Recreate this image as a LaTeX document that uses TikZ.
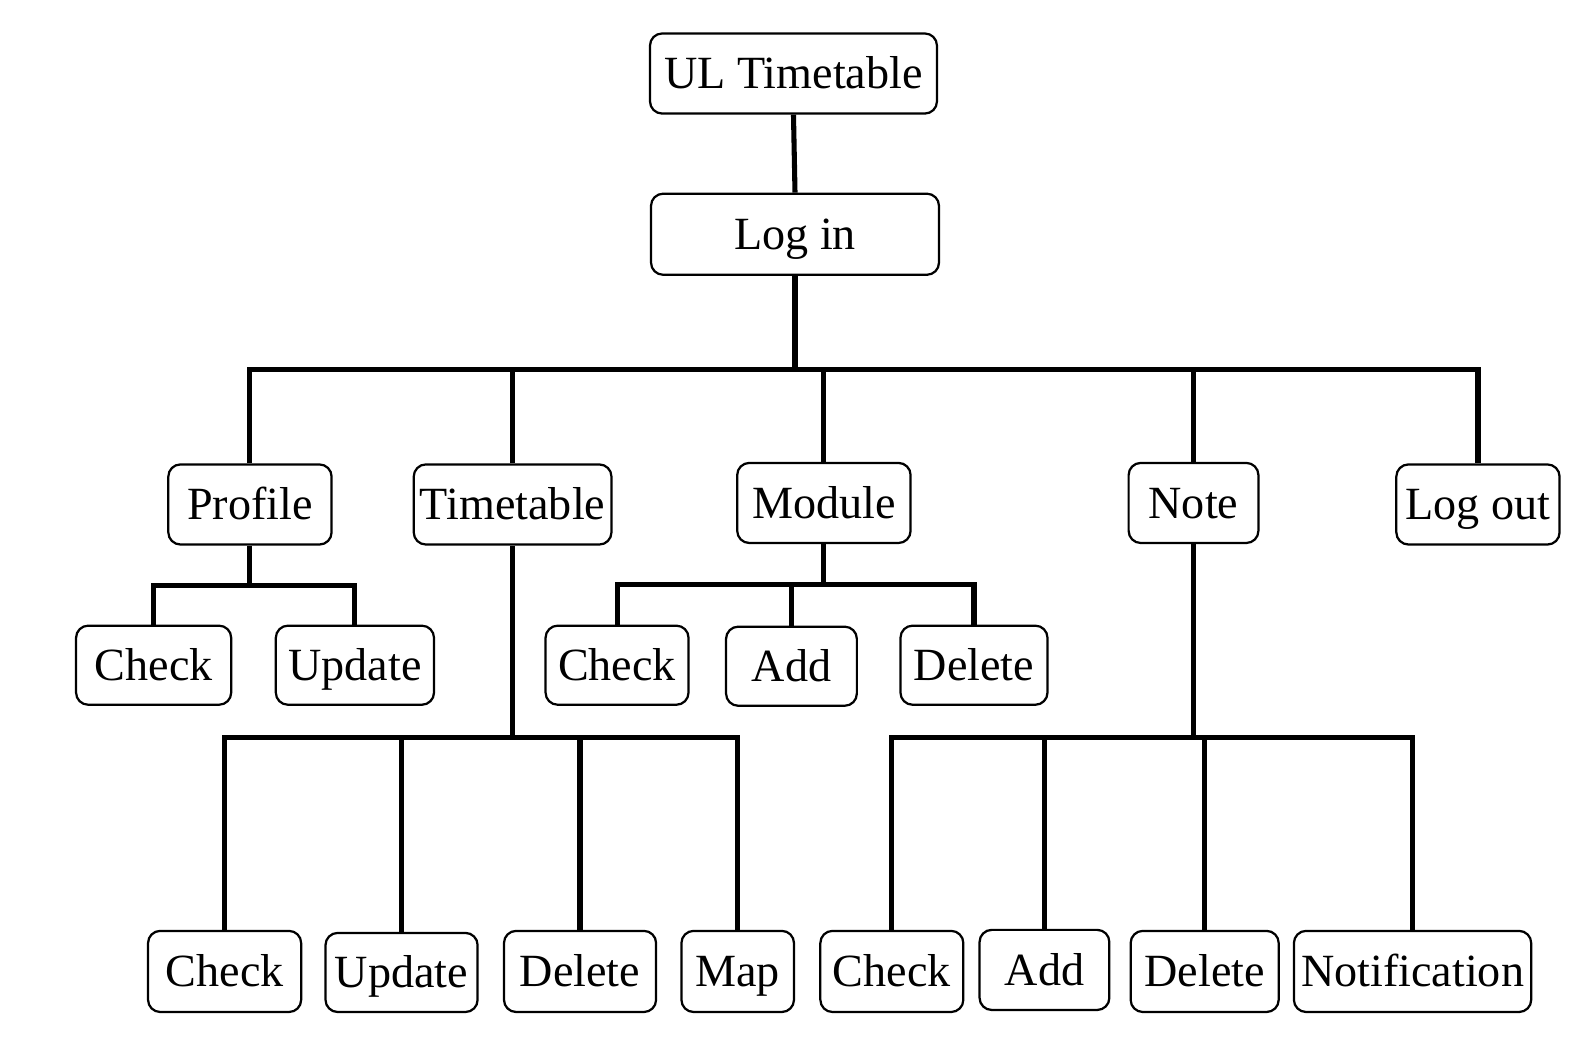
\documentclass[tikz,border=0pt]{standalone}
\usepackage{fontspec}
\setmainfont{Liberation Serif}
\begin{document}
\begin{tikzpicture}[x=0.5pt,y=-0.5pt,
  box/.style={draw, line width=1.1pt, rounded corners=6pt, minimum height=39.5pt,
    inner sep=1pt, font=\fontsize{22.75}{27}\selectfont, text height=15pt, text depth=0pt},
  conn/.style={draw, line width=2.5pt, line join=miter}]
\useasboundingbox (0,0) rectangle (1568,1047);
% top
\node[box, minimum width=141.5pt] (ul) at (782.5,72.5) {UL Timetable};
\node[box, minimum width=142pt, minimum height=40pt] (login) at (784,231) {Log in};
% level 2
\node[box, minimum width=80.5pt] (profile) at (246.5,497.5) {Profile};
\node[box, minimum width=97.5pt] (timetable) at (505.5,497.5) {Timetable};
\node[box, minimum width=85.5pt] (module) at (812.5,496) {Module};
\node[box, minimum width=64pt] (note) at (1177,496) {Note};
\node[box, minimum width=80.5pt] (logout) at (1457.5,497.5) {Log out};
% profile children
\node[box, minimum width=76.5pt, minimum height=39pt] (pcheck) at (151.5,656) {Check};
\node[box, minimum width=78pt, minimum height=39pt] (pupdate) at (350,656) {Update};
% module children
\node[box, minimum width=70.5pt, minimum height=39pt] (mcheck) at (608.5,656) {Check};
\node[box, minimum width=64.5pt, minimum height=39pt] (madd) at (780.5,657) {Add};
\node[box, minimum width=72.5pt, minimum height=39pt] (mdelete) at (960.5,656) {Delete};
% timetable children
\node[box, minimum width=75.5pt, minimum height=40pt] (tcheck) at (221.5,958) {Check};
\node[box, minimum width=75pt, minimum height=39pt] (tupdate) at (396,959) {Update};
\node[box, minimum width=75pt, minimum height=40pt] (tdelete) at (572,958) {Delete};
\node[box, minimum width=55.5pt, minimum height=40pt] (tmap) at (727.5,958) {Map};
% note children
\node[box, minimum width=70.5pt, minimum height=40pt] (ncheck) at (879.5,958) {Check};
\node[box, minimum width=64pt, minimum height=39.5pt] (nadd) at (1030,956.5) {Add};
\node[box, minimum width=73pt, minimum height=40pt] (ndelete) at (1188,958) {Delete};
\node[box, minimum width=117pt, minimum height=40pt] (nnotif) at (1393,958) {Notification};
% connectors
\draw[conn] (ul.south) -- (login.north);
\coordinate (b0) at (784,364);
\draw[conn] (login.south) -- (b0);
\foreach \n in {profile,timetable,module,note,logout} \draw[conn] (\n.north) |- (b0);
\coordinate (b1) at (246.5,577);
\draw[conn] (profile.south) -- (b1);
\foreach \n in {pcheck,pupdate} \draw[conn] (\n.north) |- (b1);
\coordinate (b2) at (505.5,727);
\draw[conn] (timetable.south) -- (b2);
\foreach \n in {tcheck,tupdate,tdelete,tmap} \draw[conn] (\n.north) |- (b2);
\coordinate (b3) at (812.5,576);
\draw[conn] (module.south) -- (b3);
\foreach \n in {mcheck,madd,mdelete} \draw[conn] (\n.north) |- (b3);
\coordinate (b4) at (1177,727);
\draw[conn] (note.south) -- (b4);
\foreach \n in {ncheck,nadd,ndelete,nnotif} \draw[conn] (\n.north) |- (b4);
\end{tikzpicture}
\end{document}
